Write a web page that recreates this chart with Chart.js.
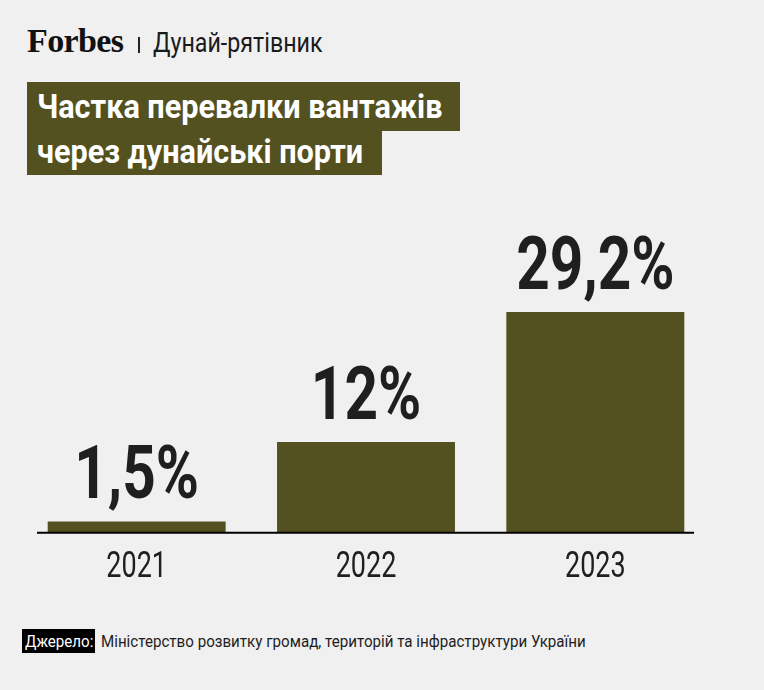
<!DOCTYPE html>
<html>
<head>
<meta charset="utf-8">
<script src="https://cdn.jsdelivr.net/npm/chart.js@4"></script>
<style>
  html, body { margin: 0; padding: 0; background: #f0f0f0; }
  body { width: 764px; height: 690px; position: relative; overflow: hidden; font-family: Roboto, sans-serif; }
  .abs { position: absolute; white-space: nowrap; }
  .sx { display: inline-block; transform-origin: 0 50%; }
  #logo { left: 27px; top: 21px; font-family: "Liberation Serif", serif; font-weight: bold; font-size: 34px; letter-spacing: -0.6px; color: #111; line-height: 40px; }
  #sep { left: 138px; top: 37px; width: 2px; height: 16px; background: #222; }
  #kicker { left: 153px; top: 25px; font-size: 27px; color: #1a1a1a; line-height: 36px; }
  #kicker .sx { transform: scaleX(0.86); }
  .tl { background: #545120; color: #fff; font-weight: bold; font-size: 34px; line-height: 40px; box-sizing: border-box; padding-left: 10px; }
  .tl .sx { transform: scaleX(0.9); }
  #t1 { left: 27px; top: 82px; width: 433px; height: 49px; padding-top: 4px; }
  #t2 { left: 27px; top: 131px; width: 355px; height: 44px; padding-top: 0px; }
  #wrap { left: 0; top: 200px; width: 764px; height: 420px; }
  #srcl { left: 22px; top: 629px; width: 73px; height: 24px; background: #000; color: #fff; font-size: 17px; line-height: 24px; box-sizing: border-box; padding-left: 3px; }
  #srcl .sx, #src .sx { transform: scaleX(0.89); }
  #src { left: 101px; top: 629px; font-size: 17px; line-height: 24px; color: #1e1e1e; }
</style>
</head>
<body>
<div class="abs" id="logo">Forbes</div>
<div class="abs" id="sep"></div>
<div class="abs" id="kicker"><span class="sx">Дунай-рятівник</span></div>
<div class="abs tl" id="t1"><span class="sx">Частка перевалки вантажів</span></div>
<div class="abs tl" id="t2"><span class="sx">через дунайські порти</span></div>
<div class="abs" id="wrap"><canvas id="c"></canvas></div>
<div class="abs" id="srcl"><span class="sx">Джерело:</span></div>
<div class="abs" id="src"><span class="sx">Міністерство розвитку громад, територій та інфраструктури України</span></div>
<script>
const years = ['2021', '2022', '2023'];
const shares = [1.5, 12, 29.2];
const shareLabels = ['1,5%', '12%', '29,2%'];

const condensedTextPlugin = {
  id: 'condensedText',
  afterDatasetsDraw(chart) {
    const ctx = chart.ctx;
    const meta = chart.getDatasetMeta(0);
    const area = chart.chartArea;
    const y0 = chart.scales.y.getPixelForValue(0);
    ctx.save();
    ctx.strokeStyle = '#000';
    ctx.lineWidth = 2;
    ctx.beginPath();
    ctx.moveTo(area.left + 15, y0);
    ctx.lineTo(area.right - 16, y0);
    ctx.stroke();
    ctx.fillStyle = '#1f1f1f';
    ctx.font = 'bold 75px Roboto, sans-serif';
    ctx.textAlign = 'center';
    ctx.textBaseline = 'alphabetic';
    meta.data.forEach((bar, i) => {
      ctx.save();
      ctx.translate(bar.x, bar.y - 23);
      ctx.scale(0.78, 1);
      ctx.fillText(shareLabels[i], 0, 0);
      ctx.restore();
    });
    ctx.restore();
  },
  afterDraw(chart) {
    // redraw the x-axis tick labels in a condensed form at the scale's own tick positions
    const ctx = chart.ctx;
    const xs = chart.scales.x;
    ctx.save();
    ctx.fillStyle = '#1f1f1f';
    ctx.font = '36px Roboto, sans-serif';
    ctx.textAlign = 'center';
    ctx.textBaseline = 'top';
    xs.ticks.forEach((t, i) => {
      ctx.save();
      ctx.translate(xs.getPixelForTick(i), xs.top + 17);
      ctx.scale(0.75, 1);
      ctx.fillText(xs.getLabelForValue(t.value), 0, 0);
      ctx.restore();
    });
    ctx.restore();
  }
};

new Chart(document.getElementById('c'), {
  type: 'bar',
  data: {
    labels: years,
    datasets: [{
      data: shares,
      backgroundColor: '#545120',
      borderWidth: 0,
      categoryPercentage: 1,
      barPercentage: 0.776
    }]
  },
  options: {
    responsive: true,
    maintainAspectRatio: false,
    animation: false,
    layout: { padding: { left: 22, right: 54, top: 0, bottom: 20 } },
    plugins: { legend: { display: false }, tooltip: { enabled: false } },
    scales: {
      x: {
        grid: { display: false, drawTicks: false },
        border: { display: false },
        ticks: {
          color: 'rgba(0,0,0,0)',
          padding: 12,
          font: { family: 'Roboto, sans-serif', size: 36 }
        }
      },
      y: {
        display: false,
        min: 0,
        max: 44
      }
    }
  },
  plugins: [condensedTextPlugin]
});
</script>
</body>
</html>
